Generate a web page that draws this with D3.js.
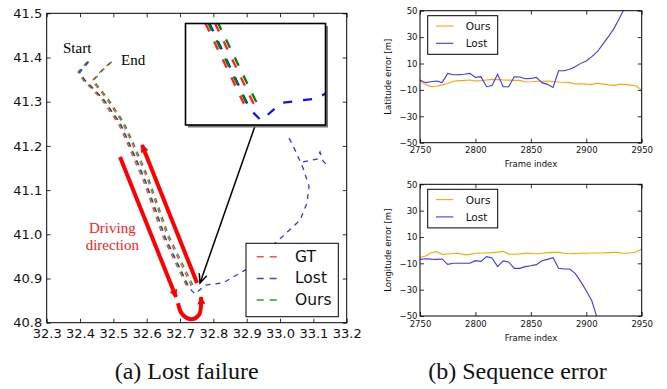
<!DOCTYPE html>
<html>
<head>
<meta charset="utf-8">
<script src="https://cdn.jsdelivr.net/npm/d3@7"></script>
<style>
body { margin: 0; background: #fff; }
svg { display: block; }
</style>
</head>
<body>
<svg id="fig" width="667" height="389"></svg>
<script>
// ---- (a) trajectories, [longitude, latitude] ----
var gtTrack = [
  [32.421, 41.390], [32.394, 41.367], [32.409, 41.349], [32.439, 41.326], [32.466, 41.304],
  [32.490, 41.277], [32.514, 41.252], [32.541, 41.207], [32.589, 41.123], [32.649, 40.994],
  [32.721, 40.881], [32.733, 40.885], [32.661, 40.998], [32.601, 41.127], [32.553, 41.211],
  [32.526, 41.254], [32.502, 41.281], [32.478, 41.308], [32.451, 41.333], [32.436, 41.347],
  [32.466, 41.372], [32.499, 41.394]
];
var oursTrack = [
  [32.424, 41.391], [32.397, 41.368], [32.413, 41.350], [32.443, 41.327], [32.470, 41.305],
  [32.494, 41.278], [32.518, 41.253], [32.545, 41.208], [32.593, 41.124], [32.653, 40.995],
  [32.724, 40.883], [32.737, 40.887], [32.665, 40.999], [32.605, 41.128], [32.557, 41.212],
  [32.530, 41.255], [32.506, 41.282], [32.482, 41.309], [32.455, 41.334], [32.440, 41.348],
  [32.470, 41.373], [32.502, 41.395]
];
var lostTrack = [
  [32.426, 41.390], [32.399, 41.366], [32.415, 41.348], [32.446, 41.325], [32.473, 41.303],
  [32.497, 41.276], [32.521, 41.251], [32.548, 41.206], [32.596, 41.122], [32.656, 40.993],
  [32.728, 40.878], [32.745, 40.865], [32.775, 40.885], [32.829, 40.890], [32.895, 40.919],
  [32.955, 40.960], [33.006, 40.994], [33.060, 41.032], [33.081, 41.071], [33.087, 41.109],
  [33.069, 41.150], [33.048, 41.186], [33.021, 41.227]
];
var lostTail = [[33.069, 41.164], [33.111, 41.170], [33.120, 41.186], [33.129, 41.166], [33.147, 41.152]];

var trackNames = ["GT", "Lost", "Ours"];
var trackColors = ["#ff2020", "#1010ff", "#008000"];

// driving direction annotation
var driveDown = [[32.520, 41.175], [32.688, 40.858]];
var driveUp = [[32.751, 40.890], [32.586, 41.202]];
var uTurn = [[32.694, 40.844], [32.706, 40.820], [32.734, 40.808], [32.757, 40.818], [32.763, 40.840], [32.763, 40.858]];
var zoomPointer = [[32.925, 41.245], [32.760, 40.890]];

var lonTicks = [32.3, 32.4, 32.5, 32.6, 32.7, 32.8, 32.9, 33.0, 33.1, 33.2];
var latTicks = [40.8, 40.9, 41.0, 41.1, 41.2, 41.3, 41.4, 41.5];

// ---- (b) sequence errors ----
var frames = [2750, 2755, 2760, 2765, 2770, 2775, 2780, 2785, 2790, 2795, 2800, 2805, 2810, 2815,
  2820, 2825, 2830, 2835, 2840, 2845, 2850, 2855, 2860, 2865, 2870, 2875, 2880, 2885, 2890,
  2895, 2900, 2905, 2910, 2915, 2920, 2925, 2930, 2935, 2940, 2945, 2950];
var oursLat = [-3.3, -6, -7.5, -7.2, -6.2, -5.2, -3.5, -3, -2.8, -2.5, -3.2, -3, -2.5, -2,
  -2.2, -2.5, -2.6, -2.8, -2.8, -4, -3.8, -3.5, -3.4, -3.3, -3.6, -4, -4.2, -4.5, -5.5,
  -5.3, -5.6, -5.8, -5, -5.6, -6.2, -6.6, -5.8, -5.8, -6.4, -7, -10.1];
var lostLat = [-2.5, -4.5, -3.8, -3.3, -4.5, 2.5, 1.5, 1.6, 1.8, 2.5, -0.5, 0, -7.6, -6.6,
  1.8, -7.6, -7.6, 0, -0.2, -1.5, -1.3, -0.5, -4.5, -5.8, -8.1, 4.5, 4.5, 5.6, 7.6,
  10.1, 11.9, 15.2, 18.9, 24.7, 30.3, 36.6, 44.2, 53, null, null, null];
var oursLon = [-5.4, -4.4, -2, -1.1, -3.2, -2.9, -2.6, -2.4, -3.4, -3.2, -2.4, -2.2, -2.1, -1.9,
  -1.5, -0.9, -3, -3.1, -2.8, -2.4, -2.5, -2.7, -2.4, -1.9, -1.7, -1.7, -2.3, -2.7, -2.5,
  -2.4, -2.3, -2.2, -2.2, -2.2, -1.9, -1.6, -2.1, -2.4, -2, -1.4, 0.9];
var lostLon = [-7, -6.5, -6.8, -7, -6.7, -10.8, -10, -10, -10, -10, -8, -8.5, -4.9, -6,
  -12.5, -8.2, -9, -13.8, -13.8, -12.5, -11.8, -11, -8, -7, -5.7, -13.8, -14.3, -14.3, -17.6,
  -23.9, -30.8, -38.4, -52, null, null, null, null, null, null, null, null];

var errNames = ["Ours", "Lost"];
var errColors = ["#ffa500", "#3a3aff"];
var frameTicks = [2750, 2800, 2850, 2900, 2950];
var errTicks = [-50, -30, -10, 10, 30, 50];

var svg = d3.select('#fig');
var defs = svg.append("defs");

// arrow heads
defs.append("marker").attr("id", "redHead")
    .attr("viewBox", "-8 -5 10 10").attr("markerUnits", "userSpaceOnUse")
    .attr("markerWidth", 10).attr("markerHeight", 10).attr("orient", "auto")
    .append("path").attr("d", "M-7,-4 L1,0 L-7,4 Z").attr("fill", "#ff0000");
defs.append("marker").attr("id", "blackHead")
    .attr("viewBox", "-10 -6 12 12").attr("markerUnits", "userSpaceOnUse")
    .attr("markerWidth", 12).attr("markerHeight", 12).attr("orient", "auto")
    .append("path").attr("d", "M-9,-4 L0,0 L-9,4").attr("fill", "none")
    .attr("stroke", "#000").attr("stroke-width", 1.5);

function drawAxes(g, x, y, opt) {
    var xr = x.range(), yr = y.range();
    var bottom = g.append("g").attr("transform", "translate(0," + yr[0] + ")")
        .call(d3.axisBottom(x).tickValues(opt.xTicks).tickFormat(opt.fx).tickSize(-4).tickPadding(opt.padX));
    g.append("g").attr("transform", "translate(0," + yr[1] + ")")
        .call(d3.axisTop(x).tickValues(opt.xTicks).tickFormat("").tickSize(-4));
    var left = g.append("g").attr("transform", "translate(" + xr[0] + ",0)")
        .call(d3.axisLeft(y).tickValues(opt.yTicks).tickFormat(opt.fy).tickSize(-4).tickPadding(opt.padY));
    g.append("g").attr("transform", "translate(" + xr[1] + ",0)")
        .call(d3.axisRight(y).tickValues(opt.yTicks).tickFormat("").tickSize(-4));
    g.selectAll(".domain").remove();
    g.selectAll(".tick line").attr("stroke", "#000").attr("stroke-width", 0.8);
    [bottom, left].forEach(function (a) {
        a.attr("font-family", "DejaVu Sans, sans-serif").attr("font-size", opt.fontSize);
        a.selectAll("text").attr("fill", "#111");
    });
    g.append("rect")
        .attr("x", xr[0]).attr("y", yr[1])
        .attr("width", xr[1] - xr[0]).attr("height", yr[0] - yr[1])
        .attr("fill", "none").attr("stroke", "#000").attr("stroke-width", 1);
}

function legendBox(g, x, y, w, h, names, colors, o) {
    var lg = g.append("g").attr("transform", "translate(" + x + "," + y + ")");
    lg.append("rect").attr("width", w).attr("height", h)
        .attr("fill", "#fff").attr("stroke", "#000").attr("stroke-width", 1);
    names.forEach(function (n, i) {
        var yy = o.first + i * o.step;
        lg.append("line").attr("x1", o.lx).attr("x2", o.lx + o.lw)
            .attr("y1", yy).attr("y2", yy)
            .attr("stroke", colors[i]).attr("stroke-width", o.sw)
            .attr("stroke-dasharray", o.dash)
            .attr("stroke-opacity", o.opacity);
        lg.append("text").attr("x", o.tx).attr("y", yy)
            .attr("dominant-baseline", "central")
            .attr("font-family", "DejaVu Sans, sans-serif").attr("font-size", o.fs)
            .attr("fill", "#111").text(n);
    });
}

// ================= (a) Lost failure =================
var xA = d3.scaleLinear().domain([32.3, 33.2]).range([46.7, 346.7]);
var yA = d3.scaleLinear().domain([40.8, 41.5]).range([322.7, 13.3]);

var panelA = svg.append("g").attr("id", "panel-a");
defs.append("clipPath").attr("id", "clipA").append("rect")
    .attr("x", 46.7).attr("y", 13.3).attr("width", 300).attr("height", 309.4);

var tracks = [gtTrack, lostTrack, oursTrack];
var trackLine = d3.line().x(function (d) { return xA(d[0]); }).y(function (d) { return yA(d[1]); });

var plotA = panelA.append("g").attr("clip-path", "url(#clipA)");
tracks.forEach(function (t, i) {
    plotA.append("path").attr("d", trackLine(t))
        .attr("fill", "none").attr("stroke", trackColors[i]).attr("stroke-width", 1.3)
        .attr("stroke-dasharray", "5,5").attr("stroke-opacity", 0.85);
});
plotA.append("path").attr("d", trackLine(lostTail))
    .attr("fill", "none").attr("stroke", trackColors[1]).attr("stroke-width", 1.3)
    .attr("stroke-dasharray", "5,5").attr("stroke-opacity", 0.85);

// driving direction arrows
[driveDown, driveUp].forEach(function (a) {
    panelA.append("path").attr("d", trackLine(a))
        .attr("fill", "none").attr("stroke", "#ff0000").attr("stroke-width", 4)
        .attr("marker-end", "url(#redHead)");
});
panelA.append("path").attr("d", trackLine.curve(d3.curveCatmullRom)(uTurn))
    .attr("fill", "none").attr("stroke", "#ff0000").attr("stroke-width", 4)
    .attr("marker-end", "url(#redHead)");
trackLine.curve(d3.curveLinear);

panelA.append("text").attr("x", xA(32.497)).attr("y", yA(41.002))
    .attr("text-anchor", "middle").attr("font-family", "Liberation Serif, serif")
    .attr("font-size", 15).attr("fill", "#ff2020").text("Driving");
panelA.append("text").attr("x", xA(32.497)).attr("y", yA(40.964))
    .attr("text-anchor", "middle").attr("font-family", "Liberation Serif, serif")
    .attr("font-size", 15).attr("fill", "#ff2020").text("direction");
panelA.append("text").attr("x", xA(32.349)).attr("y", yA(41.410))
    .attr("font-family", "Liberation Serif, serif").attr("font-size", 15).text("Start");
panelA.append("text").attr("x", xA(32.523)).attr("y", yA(41.383))
    .attr("font-family", "Liberation Serif, serif").attr("font-size", 15).text("End");

drawAxes(panelA, xA, yA, {
    xTicks: lonTicks, yTicks: latTicks, fx: d3.format(".1f"), fy: d3.format(".1f"),
    padX: 6, padY: 4.5, fontSize: 13
});

// zoom pointer
panelA.append("path").attr("d", trackLine(zoomPointer))
    .attr("fill", "none").attr("stroke", "#000").attr("stroke-width", 1.5)
    .attr("marker-end", "url(#blackHead)");

// inset
var insetBox = { x: 185.5, y: 23.5, w: 140, h: 101.5 };
var xI = d3.scaleLinear().domain([32.631, 32.842]).range([insetBox.x, insetBox.x + insetBox.w]);
var yI = d3.scaleLinear().domain([40.860, 40.975]).range([insetBox.y + insetBox.h, insetBox.y]);
defs.append("clipPath").attr("id", "clipI").append("rect")
    .attr("x", insetBox.x).attr("y", insetBox.y).attr("width", insetBox.w).attr("height", insetBox.h);
var inset = panelA.append("g").attr("id", "inset");
inset.append("rect").attr("x", insetBox.x + 2.5).attr("y", insetBox.y + 2.5)
    .attr("width", insetBox.w).attr("height", insetBox.h).attr("fill", "#777");
inset.append("rect").attr("x", insetBox.x).attr("y", insetBox.y)
    .attr("width", insetBox.w).attr("height", insetBox.h).attr("fill", "#fff");
var insetLine = d3.line().x(function (d) { return xI(d[0]); }).y(function (d) { return yI(d[1]); });
var insetPlot = inset.append("g").attr("clip-path", "url(#clipI)");
tracks.forEach(function (t, i) {
    insetPlot.append("path").attr("d", insetLine(t))
        .attr("fill", "none").attr("stroke", trackColors[i]).attr("stroke-width", 2.3)
        .attr("stroke-dasharray", "9,11");
});
inset.append("rect").attr("x", insetBox.x).attr("y", insetBox.y)
    .attr("width", insetBox.w).attr("height", insetBox.h)
    .attr("fill", "none").attr("stroke", "#000").attr("stroke-width", 1.6);

legendBox(panelA, 246, 243.3, 92.3, 73.4, trackNames, trackColors, {
    first: 13.4, step: 21.7, lx: 10.7, lw: 20, tx: 49, sw: 1.5, dash: "7,6", fs: 15.5, opacity: 0.8
});

panelA.append("text").attr("x", 186.7).attr("y", 379)
    .attr("text-anchor", "middle").attr("font-family", "Liberation Serif, serif")
    .attr("font-size", 24).attr("fill", "#111").text("(a) Lost failure");

// ================= (b) Sequence error =================
var panelB = svg.append("g").attr("id", "panel-b");
var errPlots = [
    { top: 10.7, bottom: 142.7, label: "Latitude error [m]", series: [oursLat, lostLat], id: "lat" },
    { top: 184.3, bottom: 316, label: "Longitude error [m]", series: [oursLon, lostLon], id: "lon" }
];
var xB = d3.scaleLinear().domain([2750, 2950]).range([420, 641.7]);

errPlots.forEach(function (p) {
    var yB = d3.scaleLinear().domain([-50, 50]).range([p.bottom, p.top]);
    var g = panelB.append("g");
    defs.append("clipPath").attr("id", "clip-" + p.id).append("rect")
        .attr("x", 420).attr("y", p.top).attr("width", 221.7).attr("height", p.bottom - p.top);
    var pg = g.append("g").attr("clip-path", "url(#clip-" + p.id + ")");
    p.series.forEach(function (s, i) {
        var line = d3.line()
            .defined(function (d, j) { return s[j] !== null; })
            .x(function (d, j) { return xB(frames[j]); })
            .y(function (d, j) { return yB(s[j]); });
        pg.append("path").attr("d", line(frames))
            .attr("fill", "none").attr("stroke", errColors[i]).attr("stroke-width", 1.1);
    });
    drawAxes(g, xB, yB, {
        xTicks: frameTicks, yTicks: errTicks, fx: d3.format("d"), fy: d3.format("d"),
        padX: 4.5, padY: 2.5, fontSize: 8.5
    });
    g.append("text")
        .attr("transform", "translate(388.3," + ((p.top + p.bottom) / 2) + ") rotate(-90)")
        .attr("text-anchor", "middle").attr("dominant-baseline", "central")
        .attr("font-family", "DejaVu Sans, sans-serif").attr("font-size", 8.5)
        .attr("fill", "#111").text(p.label);
    g.append("text").attr("x", 531).attr("y", p.bottom + 21.5)
        .attr("text-anchor", "middle").attr("dominant-baseline", "central")
        .attr("font-family", "DejaVu Sans, sans-serif").attr("font-size", 8.5)
        .attr("fill", "#111").text("Frame index");
    legendBox(g, 427.7, p.top + 5, 70, 38.6, errNames, errColors, {
        first: 10.3, step: 17.3, lx: 8.3, lw: 17.3, tx: 38, sw: 1.1, dash: null, fs: 10.5, opacity: 1
    });
});

panelB.append("text").attr("x", 517.5).attr("y", 379)
    .attr("text-anchor", "middle").attr("font-family", "Liberation Serif, serif")
    .attr("font-size", 24).attr("fill", "#111").text("(b) Sequence error");
</script>
</body>
</html>
